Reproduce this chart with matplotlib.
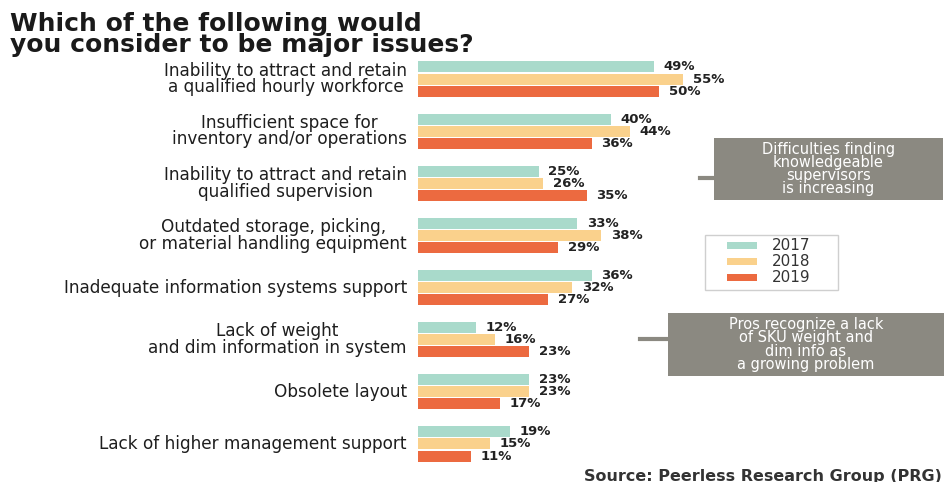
import matplotlib.pyplot as plt
from matplotlib.patches import Rectangle

# data
issues = [
    "Inability to attract and retain\na qualified hourly workforce",
    "Insufficient space for\ninventory and/or operations",
    "Inability to attract and retain\nqualified supervision",
    "Outdated storage, picking,\nor material handling equipment",
    "Inadequate information systems support",
    "Lack of weight\nand dim information in system",
    "Obsolete layout",
    "Lack of higher management support",
]
years = ["2017", "2018", "2019"]
v2017 = [49, 40, 25, 33, 36, 12, 23, 19]
v2018 = [55, 44, 26, 38, 32, 16, 23, 15]
v2019 = [50, 36, 35, 29, 27, 23, 17, 11]
colors = ["#A9DACB", "#FAD18C", "#EC6A40"]

W, H = 944, 482
fig = plt.figure(figsize=(W / 100, H / 100), dpi=100)
fig.patch.set_facecolor("white")


def fx(x):
    return x / W


def fy(y):
    return 1 - y / H


# axes: x 0..100% spans px 418..900, groups centred ~79..444 px
ax = fig.add_axes([fx(418), fy(470), 482 / W, 417 / H])
ax.set_xlim(0, 100)
ax.set_ylim(7.5, -0.5)
ax.axis("off")

h = 0.21
step = 0.232
for k, vals in enumerate([v2017, v2018, v2019]):
    for i, v in enumerate(vals):
        y = i + (k - 1) * step
        ax.barh(y, v, height=h, color=colors[k], edgecolor="none")
        ax.annotate(f"{v}%", (v, y), xytext=(7, 0), textcoords="offset points",
                    ha="left", va="center", fontsize=9.5, fontweight="bold",
                    color="#222222")

for i, lab in enumerate(issues):
    ax.annotate(lab, (0, i), xytext=(-8, 0), textcoords="offset points",
                ha="right", va="center", fontsize=12.2, color="#1e1e1e",
                linespacing=0.9, multialignment="center")

# title
fig.text(fx(10), fy(12), "Which of the following would\nyou consider to be major issues?",
         ha="left", va="top", fontsize=18, fontweight="bold", color="#1a1a1a",
         linespacing=0.85)

# legend box
fig.patches.append(Rectangle((fx(705), fy(290)), 133 / W, 55 / H,
                             transform=fig.transFigure, facecolor="white",
                             edgecolor="#cfcfcf", lw=1))
for k, yr in enumerate(years):
    yy = 246 + k * 16
    fig.patches.append(Rectangle((fx(727), fy(yy + 3)), 30 / W, 7 / H,
                                 transform=fig.transFigure, facecolor=colors[k],
                                 edgecolor="none"))
    fig.text(fx(772), fy(yy), yr, ha="left", va="center", fontsize=11,
             color="#333333")

# callout boxes
box_col = "#8B8981"
callouts = [
    (714, 138, 229, 62, 700, 178,
     "Difficulties finding\nknowledgeable\nsupervisors\nis increasing"),
    (668, 313, 276, 63, 640, 339,
     "Pros recognize a lack\nof SKU weight and\ndim info as\na growing problem"),
]
for x0, y0, bw, bh, sx, sy, txt in callouts:
    fig.patches.append(Rectangle((fx(x0), fy(y0 + bh)), bw / W, bh / H,
                                 transform=fig.transFigure, facecolor=box_col,
                                 edgecolor="none"))
    fig.lines.append(plt.Line2D([fx(sx), fx(x0)], [fy(sy), fy(sy)],
                                transform=fig.transFigure, color=box_col, lw=3))
    fig.text(fx(x0 + bw / 2), fy(y0 + bh / 2), txt, ha="center", va="center",
             fontsize=10.5, color="white", linespacing=0.85)

fig.text(fx(584), fy(476), "Source: Peerless Research Group (PRG)",
         ha="left", va="center", fontsize=11.5, fontweight="bold", color="#333333")

fig.savefig("out.png", dpi=100)
